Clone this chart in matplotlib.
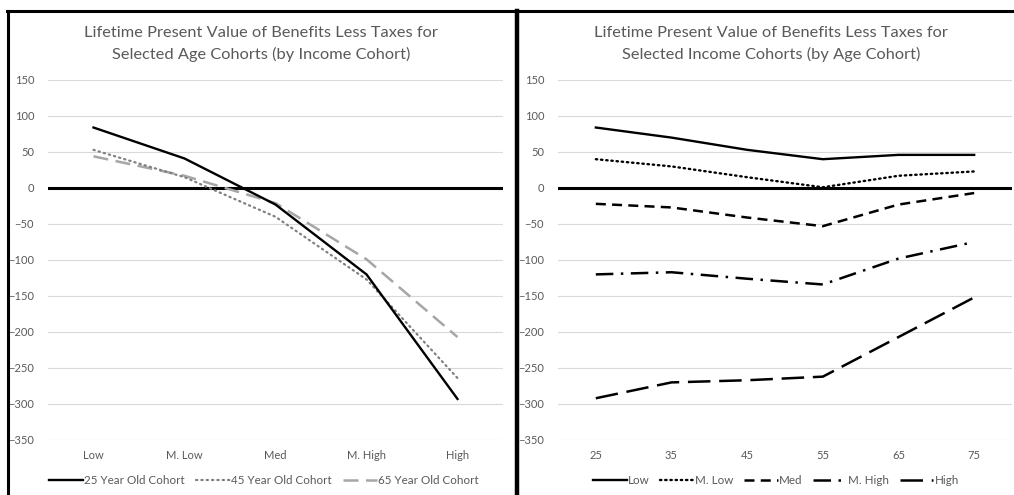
import numpy as np
import matplotlib.pyplot as plt
from matplotlib.lines import Line2D

plt.rcParams['font.family'] = ['Lato', 'DejaVu Sans']

# left panel: by income cohort
income_cats = ['Low', 'M. Low', 'Med', 'M. High', 'High']
age25 = [84, 41, -23, -120, -293]
age45 = [53, 15, -40, -127, -264]
age65 = [44, 17, -21, -99, -207]

# right panel: by age cohort
age_cats = ['25', '35', '45', '55', '65', '75']
inc_low = [84, 70, 53, 40, 46, 46]
inc_mlow = [40, 30, 15, 1, 17, 23]
inc_med = [-22, -27, -41, -53, -23, -7]
inc_mhigh = [-120, -117, -126, -134, -98, -75]
inc_high = [-292, -270, -267, -262, -207, -152]

TXT = '#595959'
GRID = '#d9d9d9'
W, H = 1014, 495

fig = plt.figure(figsize=(W / 100, H / 100), dpi=100)


def box(x0, x1):
    return [x0 / W, 1 - 440 / H, (x1 - x0) / W, 360 / H]


def style_axes(ax, cats):
    n = len(cats)
    ax.set_xlim(0, n)
    ax.set_ylim(-350, 150)
    ax.set_yticks(np.arange(-350, 151, 50))
    ax.set_xticks(np.arange(n) + 0.5)
    ax.set_xticklabels(cats)
    ax.tick_params(length=0, labelsize=8, labelcolor=TXT, pad=7)
    ax.tick_params(axis='y', pad=10)
    for s in ax.spines.values():
        s.set_visible(False)
    ax.grid(axis='y', color=GRID, lw=0.8)
    ax.set_axisbelow(True)
    ax.axhline(0, color='black', lw=2.2, zorder=1.5)


axL = fig.add_axes(box(48, 503))
xl = np.arange(len(income_cats)) + 0.5
axL.plot(xl, age25, color='black', lw=1.7, label='25 Year Old Cohort', zorder=3)
axL.plot(xl, age45, color='#808080', lw=1.6, ls=(0, (0.6, 1.8)),
         dash_capstyle='round', label='45 Year Old Cohort', zorder=2.5)
axL.plot(xl, age65, color='#a6a6a6', lw=1.8, ls=(0, (6, 3)),
         label='65 Year Old Cohort', zorder=2)
style_axes(axL, income_cats)

axR = fig.add_axes(box(558, 1012))
xr = np.arange(len(age_cats)) + 0.5
axR.plot(xr, inc_low, color='black', lw=1.7, label='Low')
axR.plot(xr, inc_mlow, color='black', lw=1.7, ls=(0, (0.6, 1.6)),
         dash_capstyle='round', label='M. Low')
axR.plot(xr, inc_med, color='black', lw=1.8, ls=(0, (4, 2.5)), label='Med')
axR.plot(xr, inc_mhigh, color='black', lw=1.8, ls=(0, (7, 3, 1, 3)),
         label='M. High')
axR.plot(xr, inc_high, color='black', lw=1.8, ls=(0, (9, 3.5)), label='High')
style_axes(axR, age_cats)

leg_kw = dict(bbox_transform=fig.transFigure, frameon=False, loc='center',
              fontsize=8.4, labelcolor=TXT, handlelength=2.9,
              handletextpad=0.1)
axL.legend(bbox_to_anchor=(264 / W, 1 - 481 / H), ncol=3,
           columnspacing=1.0, **leg_kw)
axR.legend(bbox_to_anchor=(776 / W, 1 - 481 / H), ncol=5,
           columnspacing=0.9, **leg_kw)

fig.text(261 / W, 1 - 44 / H,
         'Lifetime Present Value of Benefits Less Taxes for\nSelected Age Cohorts (by Income Cohort)',
         ha='center', va='center', fontsize=11.8, color=TXT, linespacing=1.5)
fig.text(771 / W, 1 - 44 / H,
         'Lifetime Present Value of Benefits Less Taxes for\nSelected Income Cohorts (by Age Cohort)',
         ha='center', va='center', fontsize=11.8, color=TXT, linespacing=1.5)

# panel borders
fig.add_artist(Line2D([7 / W, 1], [1 - 11 / H] * 2, color='black', lw=2.2))
fig.add_artist(Line2D([8 / W] * 2, [0, 1 - 11 / H], color='black', lw=2.2))
fig.add_artist(Line2D([517 / W] * 2, [0, 1 - 11 / H], color='black', lw=3.2))

fig.savefig('out.png', dpi=100)
